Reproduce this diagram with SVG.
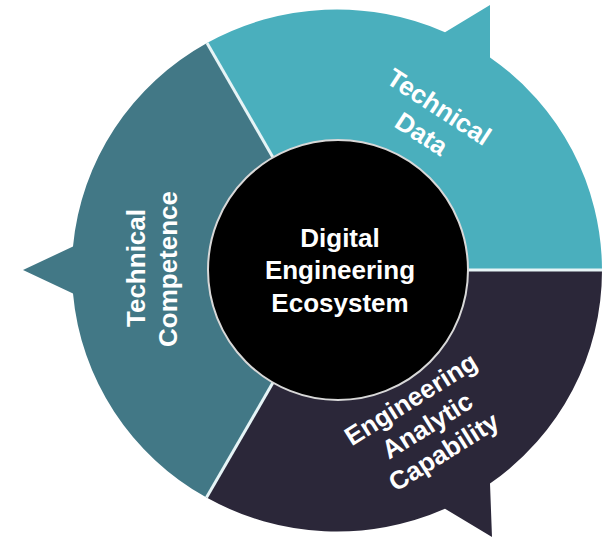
<svg xmlns="http://www.w3.org/2000/svg" width="616" height="539" viewBox="0 0 616 539">
<style>
.lbl{font-family:"Liberation Sans",Arial,sans-serif;font-weight:bold;font-size:26px;fill:#ffffff;text-anchor:middle}
.div{stroke:#e6f4f6;stroke-width:3;fill:none}
</style>
<rect width="616" height="539" fill="#ffffff"/>
<g id="node-technical-data">
<path d="M338 270 L207 43 A265 261 0 0 1 445 32.2 L490 5 L490 57.4 A265 261 0 0 1 602 270 Z" fill="#4aafbd"/>
<g transform="translate(426,127) rotate(33)">
<text class="lbl" x="0" y="-15">Technical</text>
<text class="lbl" x="0" y="17">Data</text>
</g>
</g>
<g id="node-engineering-analytic-capability">
<path d="M338 270 L602 270 A265 261 0 0 1 490 483.6 L492 537 L445 508.8 A265 261 0 0 1 206.5 497.6 Z" fill="#2b2739"/>
<g transform="translate(432,433) rotate(-32)">
<text class="lbl" x="0" y="-31">Engineering</text>
<text class="lbl" x="0" y="0">Analytic</text>
<text class="lbl" x="0" y="31">Capability</text>
</g>
</g>
<g id="node-technical-competence">
<path d="M338 270 L206.5 497.6 A265 261 0 0 1 73 293.5 L23 270 L73 246.5 A265 261 0 0 1 207 43 Z" fill="#427886"/>
<text class="lbl" transform="translate(145,268) rotate(-90)">Technical</text>
<text class="lbl" transform="translate(177,269) rotate(-90)">Competence</text>
</g>
<g id="dividers">
<line class="div" x1="273" y1="157.4" x2="207" y2="43"/>
<line class="div" x1="468" y1="270" x2="602" y2="270"/>
<line class="div" x1="273" y1="382.6" x2="206.5" y2="497.6"/>
</g>
<g id="node-center">
<circle cx="338" cy="270" r="130" fill="#000000" stroke="#d8d8d8" stroke-width="2"/>
<text class="lbl" x="340" y="247">Digital</text>
<text class="lbl" x="340" y="279">Engineering</text>
<text class="lbl" x="340" y="312">Ecosystem</text>
</g>
</svg>
